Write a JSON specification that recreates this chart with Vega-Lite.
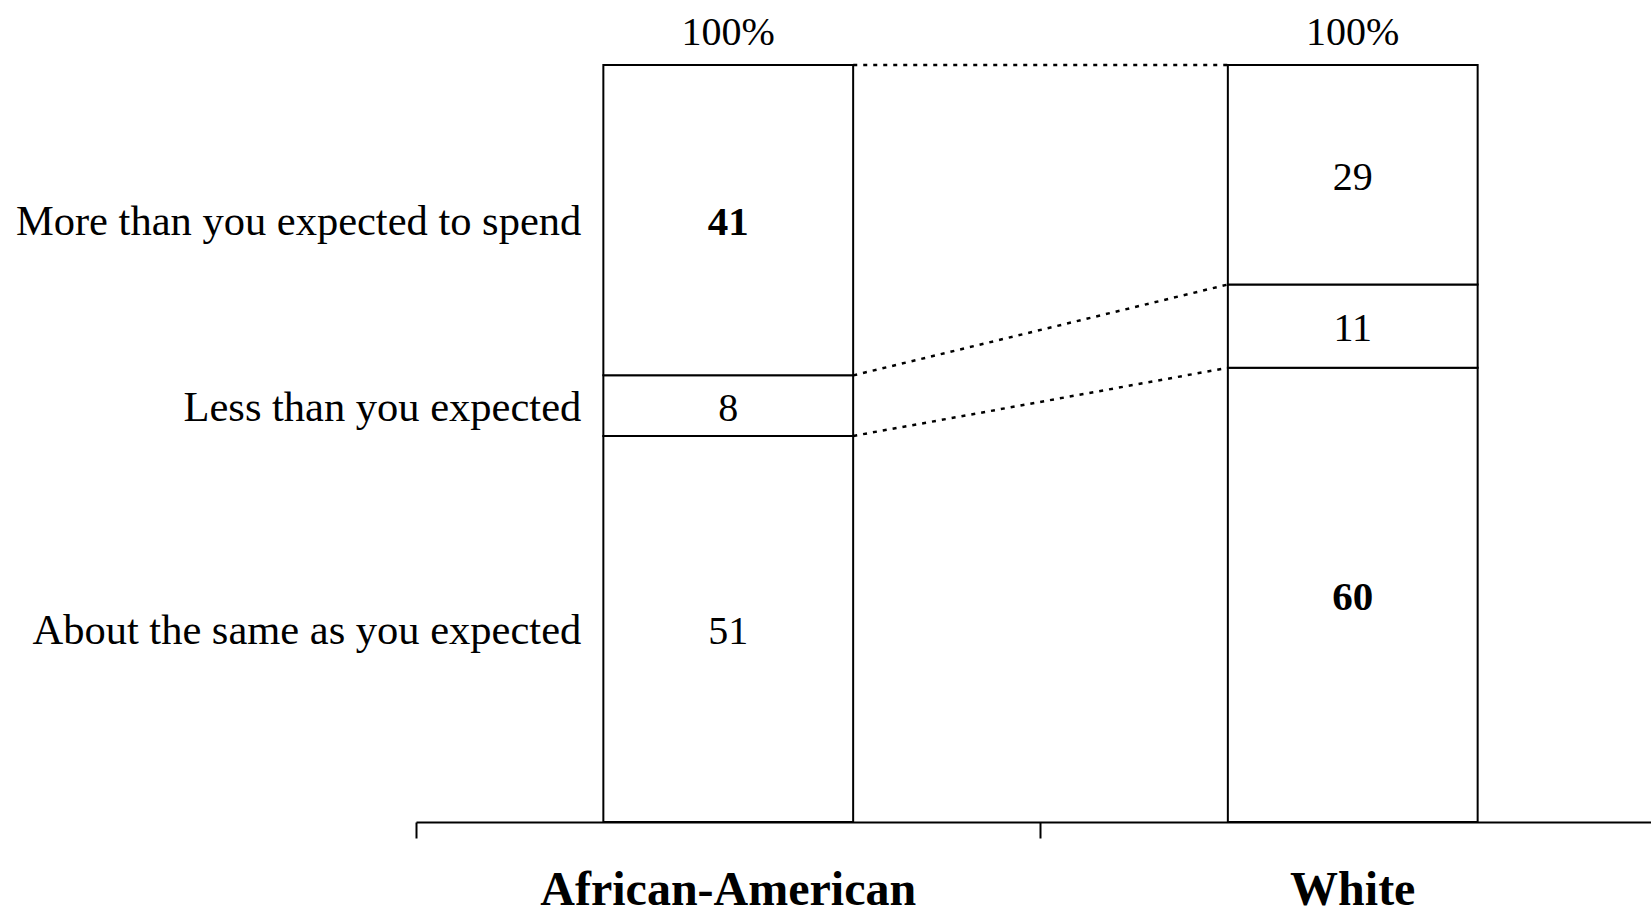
{
  "$schema": "https://vega.github.io/schema/vega-lite/v6.json",
  "autosize": {"type": "none"},
  "width": 1235,
  "height": 757,
  "padding": {"left": 416, "top": 65, "right": 0, "bottom": 92},
  "background": "white",
  "config": {"view": {"stroke": null}, "font": "Liberation Serif", "text": {"font": "Liberation Serif", "color": "black"}},
  "data": {
    "values": [
      {"group": "African-American", "response": "About the same as you expected", "order": 1, "pct": 51, "highlight": false},
      {"group": "African-American", "response": "Less than you expected", "order": 2, "pct": 8, "highlight": false},
      {"group": "African-American", "response": "More than you expected to spend", "order": 3, "pct": 41, "highlight": true},
      {"group": "White", "response": "About the same as you expected", "order": 1, "pct": 60, "highlight": true},
      {"group": "White", "response": "Less than you expected", "order": 2, "pct": 11, "highlight": false},
      {"group": "White", "response": "More than you expected to spend", "order": 3, "pct": 29, "highlight": false}
    ]
  },
  "transform": [
    {"stack": "pct", "groupby": ["group"], "sort": [{"field": "order"}], "as": ["y0", "y1"]},
    {"calculate": "(datum.y0 + datum.y1) / 2", "as": "mid"}
  ],
  "layer": [
    {
      "mark": {"type": "bar", "fill": "white", "stroke": "black", "strokeWidth": 2, "width": {"band": 0.4}},
      "encoding": {
        "x": {
          "field": "group", "type": "nominal", "sort": null,
          "scale": {"range": [0, 1249], "paddingInner": 0, "paddingOuter": 0},
          "axis": {
            "title": null, "orient": "bottom", "bandPosition": 0, "grid": false,
            "tickSize": 16, "tickWidth": 2, "tickColor": "black",
            "domainColor": "black", "domainWidth": 2,
            "labelFont": "Liberation Serif", "labelFontSize": 48, "labelFontWeight": "bold",
            "labelColor": "black", "labelPadding": 28, "labelAngle": 0, "labelLimit": 0
          }
        },
        "y": {"field": "y0", "type": "quantitative", "scale": {"domain": [0, 100], "nice": false}, "axis": null},
        "y2": {"field": "y1"}
      }
    },
    {
      "transform": [{"pivot": "group", "value": "y1", "groupby": ["response"]}],
      "mark": {"type": "rule", "strokeDash": [4, 6], "strokeWidth": 2.5, "color": "black", "xOffset": 125, "x2Offset": -125},
      "encoding": {
        "x": {"datum": "African-American", "type": "nominal", "axis": {"title": null}},
        "x2": {"datum": "White"},
        "y": {"field": "African-American", "type": "quantitative", "axis": null},
        "y2": {"field": "White"}
      }
    },
    {
      "transform": [{"filter": "datum.highlight"}],
      "mark": {"type": "text", "fontSize": 41, "fontWeight": "bold", "baseline": "middle", "align": "center", "dy": 3},
      "encoding": {
        "x": {"field": "group", "type": "nominal", "axis": {"title": null}},
        "y": {"field": "mid", "type": "quantitative", "axis": null},
        "text": {"field": "pct", "type": "quantitative"}
      }
    },
    {
      "transform": [{"filter": "!datum.highlight"}],
      "mark": {"type": "text", "fontSize": 40, "fontWeight": "normal", "baseline": "middle", "align": "center", "dy": 3},
      "encoding": {
        "x": {"field": "group", "type": "nominal", "axis": {"title": null}},
        "y": {"field": "mid", "type": "quantitative", "axis": null},
        "text": {"field": "pct", "type": "quantitative"}
      }
    },
    {
      "transform": [{"filter": "datum.group == 'African-American'"}],
      "mark": {"type": "text", "fontSize": 42.5, "baseline": "middle", "align": "right", "dx": -147, "dy": 2},
      "encoding": {
        "x": {"field": "group", "type": "nominal", "axis": {"title": null}},
        "y": {"field": "mid", "type": "quantitative", "axis": null},
        "text": {"field": "response", "type": "nominal"}
      }
    },
    {
      "transform": [
        {"filter": "datum.order == 3"},
        {"calculate": "datum.y1 + '%'", "as": "total"}
      ],
      "mark": {"type": "text", "fontSize": 40, "baseline": "alphabetic", "align": "center", "dy": -20},
      "encoding": {
        "x": {"field": "group", "type": "nominal", "axis": {"title": null}},
        "y": {"field": "y1", "type": "quantitative", "axis": null},
        "text": {"field": "total", "type": "nominal"}
      }
    }
  ]
}
